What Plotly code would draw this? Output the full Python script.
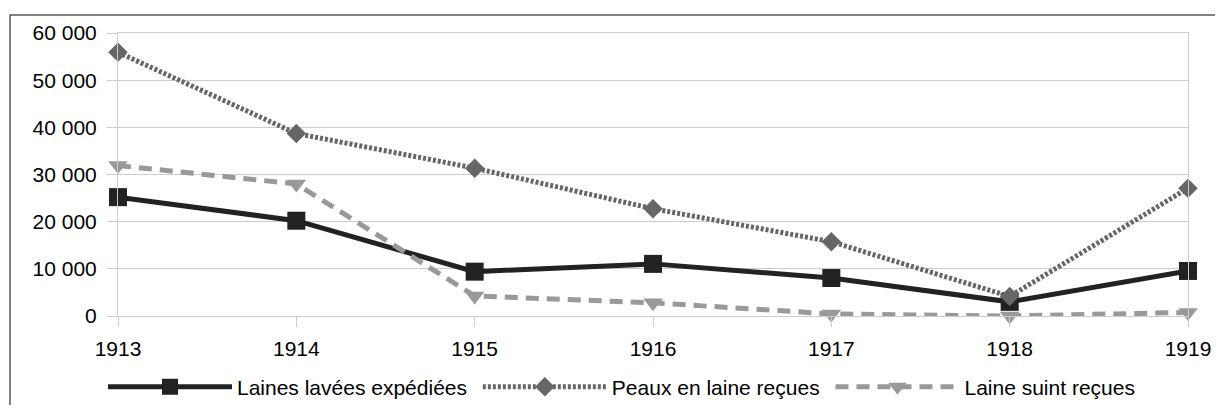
import plotly.graph_objects as go

years = [1913, 1914, 1915, 1916, 1917, 1918, 1919]
laines_lavees = [25200, 20200, 9400, 11050, 8050, 3000, 9550]
peaux_laine = [55900, 38700, 31350, 22750, 15750, 4150, 27100]
laine_suint = [31900, 28000, 4250, 2800, 450, 0, 750]

series_names = ["Laines lavées expédiées", "Peaux en laine reçues", "Laine suint reçues"]
y_tickvals = [0, 10000, 20000, 30000, 40000, 50000, 60000]
y_ticktext = ["0", "10 000", "20 000", "30 000", "40 000", "50 000", "60 000"]

FONT = "Liberation Sans, Arial, sans-serif"
PAD = "\u00a0"

fig = go.Figure()
fig.add_trace(go.Scatter(
    x=years, y=laines_lavees, name=series_names[0] + PAD, mode="lines+markers",
    line=dict(color="#222222", width=5),
    marker=dict(symbol="square", size=18, color="#222222"),
))
fig.add_trace(go.Scatter(
    x=years, y=peaux_laine, name=series_names[1] + PAD, mode="lines+markers",
    line=dict(color="#666666", width=5, dash="3px,2px"),
    marker=dict(symbol="diamond", size=15, color="#666666"),
))
fig.add_trace(go.Scatter(
    x=years, y=laine_suint, name=series_names[2], mode="lines+markers",
    line=dict(color="#999999", width=5, dash="13px,8px"),
    marker=dict(symbol="triangle-down", size=17, color="#999999"),
))

fig.update_layout(
    width=1207, height=397,
    margin=dict(l=110, r=27, t=25, b=89, autoexpand=False),
    paper_bgcolor="white", plot_bgcolor="white",
    font=dict(family=FONT, size=21, color="black"),
    showlegend=True,
    legend=dict(orientation="h", xref="container", yref="container",
                x=0.0787, xanchor="left", y=0.0453, yanchor="middle",
                itemwidth=124, font=dict(family=FONT, size=21), traceorder="normal",
                bgcolor="rgba(0,0,0,0)"),
    xaxis=dict(range=[1913, 1919], tickvals=years, ticktext=[str(y) for y in years],
               showgrid=False, showline=True, mirror=True, linecolor="#cccccc", linewidth=1,
               ticks="outside", ticklen=10, tickcolor="#cccccc", zeroline=False,
               ticklabelstandoff=4, automargin=False),
    yaxis=dict(range=[0, 60000], tickvals=y_tickvals, ticktext=y_ticktext,
               showgrid=True, gridcolor="#cccccc", gridwidth=1,
               showline=True, mirror=True, linecolor="#cccccc", linewidth=1,
               ticks="outside", ticklen=10, tickcolor="#cccccc", zeroline=False,
               ticklabelstandoff=6, automargin=False),
    shapes=[dict(type="rect", xref="paper", yref="paper", x0=-0.1009, x1=1.05, y0=-0.4, y1=1.0636,
                 line=dict(color="#555555", width=1.5), fillcolor="rgba(0,0,0,0)", layer="below")],
)
fig.update_traces(cliponaxis=False)

fig.write_html("out.html")
